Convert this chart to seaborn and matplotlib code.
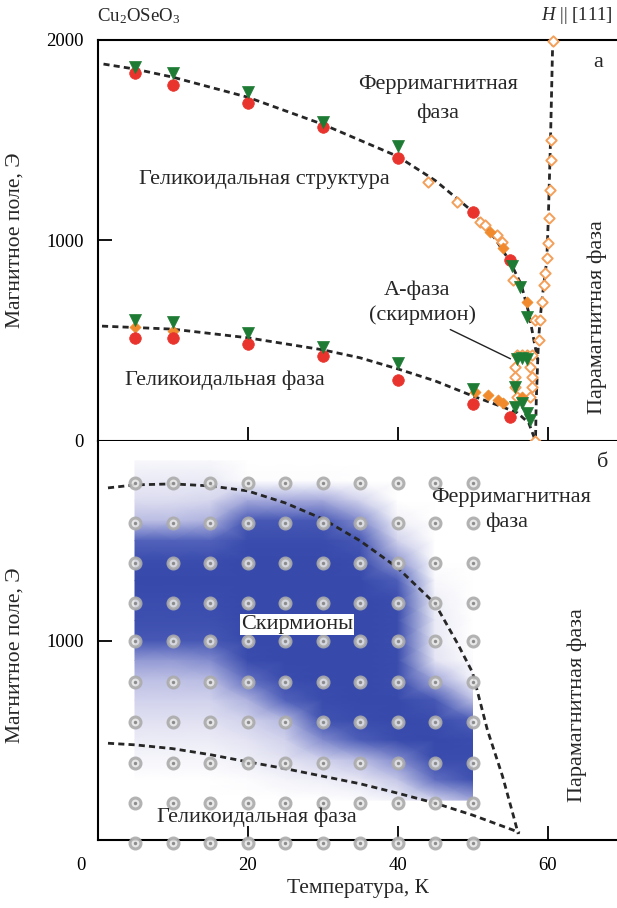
import numpy as np
import pandas as pd
import matplotlib
matplotlib.use("Agg")
import matplotlib.pyplot as plt
import matplotlib.transforms as mtrans
from matplotlib.colors import LinearSegmentedColormap
import seaborn as sns

sns.set_theme(style="white")
plt.rcParams["font.family"] = ["Liberation Serif", "DejaVu Serif"]
plt.rcParams["mathtext.fontset"] = "custom"
plt.rcParams["mathtext.rm"] = "Liberation Serif"
plt.rcParams["mathtext.it"] = "Liberation Serif:italic"

# ---------------- panel (a): phase diagram from magnetisation ----------------
red_T = [5, 10, 20, 30, 40, 50, 55, 5, 10, 20, 30, 40, 50, 55]
red_H = [1835, 1775, 1685, 1565, 1410, 1142, 903, 514, 514, 484, 424, 304, 184, 120]

green_T = [5, 10, 20, 30, 40, 55.3, 56.3, 57.2,
           5, 10, 20, 30, 40, 50, 55.9, 56.6, 57.3, 55.7, 55.6, 56.6, 57.2, 57.7]
green_H = [1865, 1835, 1740, 1590, 1470, 873, 768, 620,
           603, 594, 539, 469, 389, 259, 410, 412, 408, 270, 170, 190, 140, 105]

orange_T = [52.3, 54.0, 57.2, 5, 10, 50.3, 52.0, 54.0, 56.6, 53.4]
orange_H = [1042, 962, 693, 569, 549, 245, 230, 190, 220, 205]

open_T = [44.1, 47.9, 51.0, 51.7, 53.2, 53.9, 55.4, 58.3,
          60.7, 60.5, 60.4, 60.3, 60.2, 60.1, 59.9, 59.7, 59.5, 59.3, 59.0, 58.8,
          55.9, 56.6, 57.2, 57.9, 55.7, 55.7, 55.7, 55.9, 57.7, 57.9, 57.9, 57.7,
          58.3]
open_H = [1293, 1193, 1094, 1077, 1027, 994, 803, 603,
          1995, 1500, 1400, 1250, 1110, 989, 912, 837, 778, 695, 603, 504,
          429, 429, 429, 429, 369, 319, 269, 219, 369, 319, 269, 219,
          0]

upper_T = [0.8, 5, 10, 20, 30, 40, 45, 50, 53, 55, 56.5, 57.5, 58.2, 58.7]
upper_H = [1880, 1855, 1815, 1715, 1580, 1420, 1300, 1145, 1010, 895, 780, 640, 500, 405]

para_T = [60.7, 60.4, 60.1, 59.9, 59.5, 59.2, 59.0, 58.8, 58.7, 58.5, 58.4]
para_H = [2000, 1500, 1100, 900, 780, 680, 600, 500, 405, 200, 0]

lower_T = [0.6, 10, 20, 30, 35, 40, 45, 50, 54, 56, 57.5, 58.4]
lower_H = [573, 558, 515, 455, 415, 360, 300, 225, 170, 140, 90, 0]

# ---------------- panel (б): neutron scattering map ----------------
map_T = [5, 10, 15, 20, 25, 30, 35, 40, 45, 50]
map_H = [1900, 1800, 1700, 1600, 1500, 1400, 1300, 1200, 1100,
         1000, 900, 800, 700, 600, 500, 400, 300, 200]
map_I = [
    [0.06, 0.06, 0.06, 0.00, 0.00, 0.00, 0.00, 0.00, 0.00, 0.00],
    [0.15, 0.15, 0.15, 0.02, 0.02, 0.02, 0.00, 0.00, 0.00, 0.00],
    [0.25, 0.25, 0.28, 0.50, 0.50, 0.50, 0.30, 0.00, 0.00, 0.00],
    [0.40, 0.40, 0.45, 0.85, 0.85, 0.85, 0.60, 0.10, 0.00, 0.00],
    [0.75, 0.75, 0.75, 0.95, 0.95, 0.95, 0.85, 0.30, 0.00, 0.00],
    [0.95, 0.95, 0.95, 0.97, 0.97, 0.97, 0.95, 0.55, 0.00, 0.00],
    [0.97, 0.97, 0.97, 0.97, 0.97, 0.97, 0.97, 0.80, 0.05, 0.00],
    [0.95, 0.95, 0.95, 0.97, 0.97, 0.97, 0.97, 0.95, 0.12, 0.00],
    [0.92, 0.92, 0.92, 0.97, 0.97, 0.97, 0.97, 0.95, 0.15, 0.00],
    [0.85, 0.85, 0.85, 0.97, 0.97, 0.97, 0.97, 0.95, 0.15, 0.00],
    [0.55, 0.55, 0.60, 0.95, 0.97, 0.97, 0.97, 0.95, 0.20, 0.02],
    [0.38, 0.38, 0.40, 0.70, 0.95, 0.97, 0.97, 0.95, 0.50, 0.10],
    [0.30, 0.30, 0.30, 0.45, 0.75, 0.95, 0.97, 0.97, 0.85, 0.40],
    [0.22, 0.22, 0.22, 0.30, 0.42, 0.90, 0.95, 0.97, 0.95, 0.80],
    [0.14, 0.14, 0.14, 0.20, 0.30, 0.60, 0.80, 0.95, 0.97, 0.95],
    [0.07, 0.07, 0.07, 0.12, 0.20, 0.30, 0.40, 0.60, 0.95, 0.95],
    [0.00, 0.00, 0.00, 0.02, 0.08, 0.12, 0.18, 0.35, 0.70, 0.90],
    [0.00, 0.00, 0.00, 0.00, 0.00, 0.00, 0.02, 0.10, 0.30, 0.50],
]

grid_T = [5, 10, 15, 20, 25, 30, 35, 40, 45, 50]
grid_H = [1790, 1590, 1390, 1190, 995, 790, 590, 385, 185, -15]

fm_T = [1.4, 5, 10, 15, 20, 25, 30, 35, 40, 45, 48, 50, 52, 54, 55.5, 56.1]
fm_H = [1765, 1780, 1785, 1775, 1750, 1690, 1610, 1500, 1365, 1185, 985, 840,
        550, 320, 115, 30]

hel_T = [1.4, 5, 10, 15, 20, 25, 30, 35, 40, 45, 50, 55.4, 56.3]
hel_H = [485, 477, 458, 428, 392, 358, 320, 282, 235, 185, 125, 50, 35]

xticks = [0, 20, 40, 60]

# ---------------- figure ----------------
W, Hpx = 617, 908
fig = plt.figure(figsize=(W / 100, Hpx / 100), dpi=100)
left = 97.5 / W
width = (W - 97.5) / W
ax_a = fig.add_axes([left, 1 - 441 / Hpx, width, 401 / Hpx])
ax_b = fig.add_axes([left, 1 - 840 / Hpx, width, 399 / Hpx])

xmax = (W - 97.5) / 7.5
dash = (0, (2.2, 1.5))
line_kw = dict(color="#262626", lw=2.0, linestyle=dash, sort=False,
               estimator=None, legend=False, zorder=2)

# panel (a) boundaries
sns.lineplot(x=upper_T, y=upper_H, ax=ax_a, **line_kw)
sns.lineplot(x=para_T, y=para_H, ax=ax_a, **line_kw)
sns.lineplot(x=lower_T, y=lower_H, ax=ax_a, **line_kw)

sns.scatterplot(x=open_T, y=open_H, ax=ax_a, marker="D", s=28,
                facecolor="white", edgecolor="#f4a05a", linewidth=1.4,
                zorder=3, clip_on=False, legend=False)
sns.scatterplot(x=orange_T, y=orange_H, ax=ax_a, marker="D", s=32,
                color="#f08a2c", edgecolor="#f08a2c", linewidth=0.5,
                zorder=4, clip_on=False, legend=False)
sns.scatterplot(x=red_T, y=red_H, ax=ax_a, marker="o", s=70,
                color="#e8342c", edgecolor="#e8342c", linewidth=0.5,
                zorder=4, legend=False)
sns.scatterplot(x=green_T, y=green_H, ax=ax_a, marker="v", s=75,
                color="#1e7b34", edgecolor="#1e7b34", linewidth=0.5,
                zorder=5, legend=False)

ax_a.annotate("", xy=(55.4, 404), xytext=(46.7, 562),
              arrowprops=dict(arrowstyle="-", color="#222", lw=1.0))

fs_tick = 13.5
fs = 16
fs_lab = 15.5
ax_a.text(45.4, 1776, "Ферримагнитная", ha="center", va="center", fontsize=fs)
ax_a.text(45.4, 1636, "фаза", ha="center", va="center", fontsize=fs)
ax_a.text(22.3, 1302, "Геликоидальная структура", ha="center", va="center", fontsize=fs)
ax_a.text(42.6, 753, "А-фаза", ha="center", va="center", fontsize=fs)
ax_a.text(43.4, 628, "(скирмион)", ha="center", va="center", fontsize=fs)
ax_a.text(17.0, 304, "Геликоидальная фаза", ha="center", va="center", fontsize=fs)
ax_a.text(66.6, 618, "Парамагнитная фаза", ha="center", va="center",
          rotation=90, fontsize=fs)
ax_a.text(66.7, 1890, "а", ha="center", va="center", fontsize=fs)

# panel (б) intensity map
TT, HH = np.meshgrid(map_T, map_H)
cmap = LinearSegmentedColormap.from_list(
    "sky", ["#ffffff", "#dcdcf0", "#a3a8da", "#5262bb", "#3447aa"])
ax_b.pcolormesh(TT, HH, np.array(map_I), shading="gouraud", cmap=cmap,
                vmin=0, vmax=1, zorder=1, rasterized=True)

gT, gH = np.meshgrid(grid_T, grid_H)
sns.scatterplot(x=gT.ravel(), y=gH.ravel(), ax=ax_b, marker="o", s=62,
                facecolor="#e6e6e6", edgecolor="#ababab", linewidth=2.2,
                alpha=0.9, zorder=3, clip_on=False, legend=False)
sns.scatterplot(x=gT.ravel(), y=gH.ravel(), ax=ax_b, marker="o", s=6,
                color="#8c8c8c", linewidth=0, zorder=4, clip_on=False,
                legend=False)

sns.lineplot(x=fm_T, y=fm_H, ax=ax_b, **line_kw)
sns.lineplot(x=hel_T, y=hel_H, ax=ax_b, **line_kw)

ax_b.text(55.2, 1715, "Ферримагнитная", ha="center", va="center", fontsize=fs, zorder=6)
ax_b.text(54.6, 1595, "фаза", ha="center", va="center", fontsize=fs, zorder=6)
ax_b.text(26.6, 1080, "Скирмионы", ha="center", va="center", fontsize=fs, zorder=6,
          bbox=dict(facecolor="white", edgecolor="none", pad=1.0))
ax_b.text(21.3, 115, "Геликоидальная фаза", ha="center", va="center", fontsize=fs, zorder=6)
ax_b.text(64.0, 675, "Парамагнитная фаза", ha="center", va="center",
          rotation=90, fontsize=fs, zorder=6)
ax_b.text(67.4, 1890, "б", ha="center", va="center", fontsize=fs, zorder=6)

# axes styling
for ax in (ax_a, ax_b):
    ax.set_xlim(0, xmax)
    ax.set_ylim(0, 2000)
    ax.set_facecolor("white")
    ax.set_xlabel("")
    ax.set_ylabel("")
    for side in ("left", "bottom", "top"):
        ax.spines[side].set_color("black")
        ax.spines[side].set_linewidth(1.5)
    ax.spines["right"].set_visible(False)
    ax.tick_params(direction="in", length=10, width=1.3, colors="black",
                   labelsize=fs_tick, pad=10, bottom=True, left=True)

ax_a.set_xticks(xticks[1:])
ax_a.set_xticklabels([])
ax_a.set_yticks([0, 1000, 2000])
ax_a.set_yticklabels(["0", "1000", "2000"])

ax_b.set_xticks(xticks)
ax_b.set_xticklabels([str(t) for t in xticks])
ax_b.tick_params(axis="x", pad=12)
ax_b.set_yticks([1000])
ax_b.set_yticklabels(["1000"])
ax_b.spines["top"].set_visible(False)

# the zero label sits slightly left of the axis corner
shift = mtrans.ScaledTranslation(-17 / 100, 0, fig.dpi_scale_trans)
lbl0 = ax_b.get_xticklabels()[0]
lbl0.set_transform(lbl0.get_transform() + shift)

# header and axis titles
fig.text(97 / W, 1 - 16 / Hpx, "Cu$_2$OSeO$_3$", ha="left", va="center", fontsize=fs_tick)
fig.text(613 / W, 1 - 16 / Hpx, "$H$ || [111]", ha="right", va="center", fontsize=fs_tick)
fig.text(15 / W, 1 - 240 / Hpx, "Магнитное поле, Э", rotation=90,
         ha="center", va="center", fontsize=fs_lab)
fig.text(15 / W, 1 - 655 / Hpx, "Магнитное поле, Э", rotation=90,
         ha="center", va="center", fontsize=fs_lab)
fig.text(358 / W, 1 - 889 / Hpx, "Температура, К", ha="center", va="center", fontsize=fs_lab)

fig.savefig("out.png", dpi=100, facecolor="white")
